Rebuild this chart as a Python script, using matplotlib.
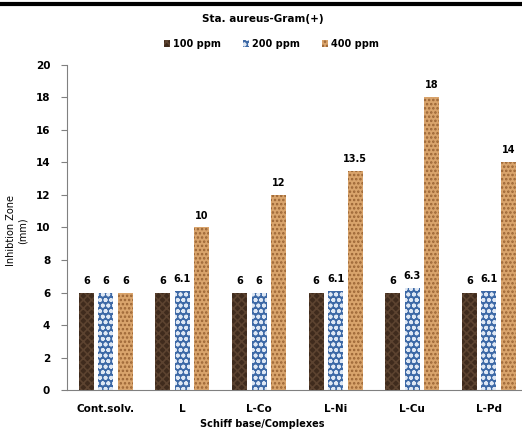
import numpy as np
import matplotlib.pyplot as plt
from matplotlib.lines import Line2D

# Inhibition zone data (mm)
compounds = ['Cont.solv.', 'L', 'L-Co', 'L-Ni', 'L-Cu', 'L-Pd']
conc_labels = ['100 ppm', '200 ppm', '400 ppm']
zone_100 = [6, 6, 6, 6, 6, 6]
zone_200 = [6, 6.1, 6, 6.1, 6.3, 6.1]
zone_400 = [6, 10, 12, 13.5, 18, 14]
value_text = [
    ['6', '6', '6', '6', '6', '6'],
    ['6', '6.1', '6', '6.1', '6.3', '6.1'],
    ['6', '10', '12', '13.5', '18', '14'],
]

plt.rcParams['hatch.linewidth'] = 1.2

fig = plt.figure(figsize=(5.22, 4.32), dpi=100)
ax = fig.add_axes([0.128, 0.097, 0.87, 0.753])

x = np.arange(len(compounds))
width = 0.196
pitch = 0.255
styles = [
    dict(color='#3f2b1d', edgecolor='#5c4330', hatch='xxxx'),
    dict(color='#3d69a6', edgecolor='#dfe8f4', hatch='ooo'),
    dict(color='#d9a46c', edgecolor='#9a6434', hatch='....'),
]

series = [zone_100, zone_200, zone_400]
handles = []
for i, (vals, st) in enumerate(zip(series, styles)):
    pos = x + (i - 1) * pitch
    bars = ax.bar(pos, vals, width, color=st['color'], edgecolor=st['edgecolor'],
                  hatch=st['hatch'], linewidth=0, label=conc_labels[i])
    handles.append(bars)
    for b, t in zip(bars, value_text[i]):
        ax.annotate(t, (b.get_x() + b.get_width() / 2, b.get_height()),
                    xytext=(0, 5), textcoords='offset points', ha='center',
                    va='bottom', fontsize=7, fontweight='bold')

ax.set_xlim(-0.51, 5.42)
ax.set_ylim(0, 20)
ax.set_yticks(range(0, 21, 2))
ax.set_xticks(x)
ax.set_xticklabels(compounds, fontsize=7.5, fontweight='bold')
ax.tick_params(axis='x', length=0, pad=10)
ax.tick_params(axis='y', labelsize=7.5, length=4, color='#808080', pad=8)
for lab in ax.get_yticklabels():
    lab.set_fontweight('bold')
for s in ['top', 'right']:
    ax.spines[s].set_visible(False)
ax.spines['left'].set_color('#808080')
ax.spines['bottom'].set_color('#808080')

ax.set_ylabel('Inhibtion Zone\n(mm)', fontsize=7)
ax.yaxis.set_label_coords(-0.086, 0.49)

fig.text(0.503, 1 - 424 / 432, 'Schiff base/Complexes', ha='center', va='center',
         fontsize=7, fontweight='bold')
fig.text(0.503, 0.955, 'Sta. aureus-Gram(+)', ha='center', va='center',
         fontsize=7.5, fontweight='bold')
fig.legend(handles=handles, loc='center', bbox_to_anchor=(0.52, 0.898), ncol=3,
           frameon=False, prop=dict(size=7, weight='bold'), handlelength=0.7,
           handleheight=0.7, handletextpad=0.3, columnspacing=2.2)

fig.add_artist(Line2D([0, 1], [0.99, 0.99], color='black', lw=3,
                      transform=fig.transFigure))

fig.savefig('out.png', dpi=100)
